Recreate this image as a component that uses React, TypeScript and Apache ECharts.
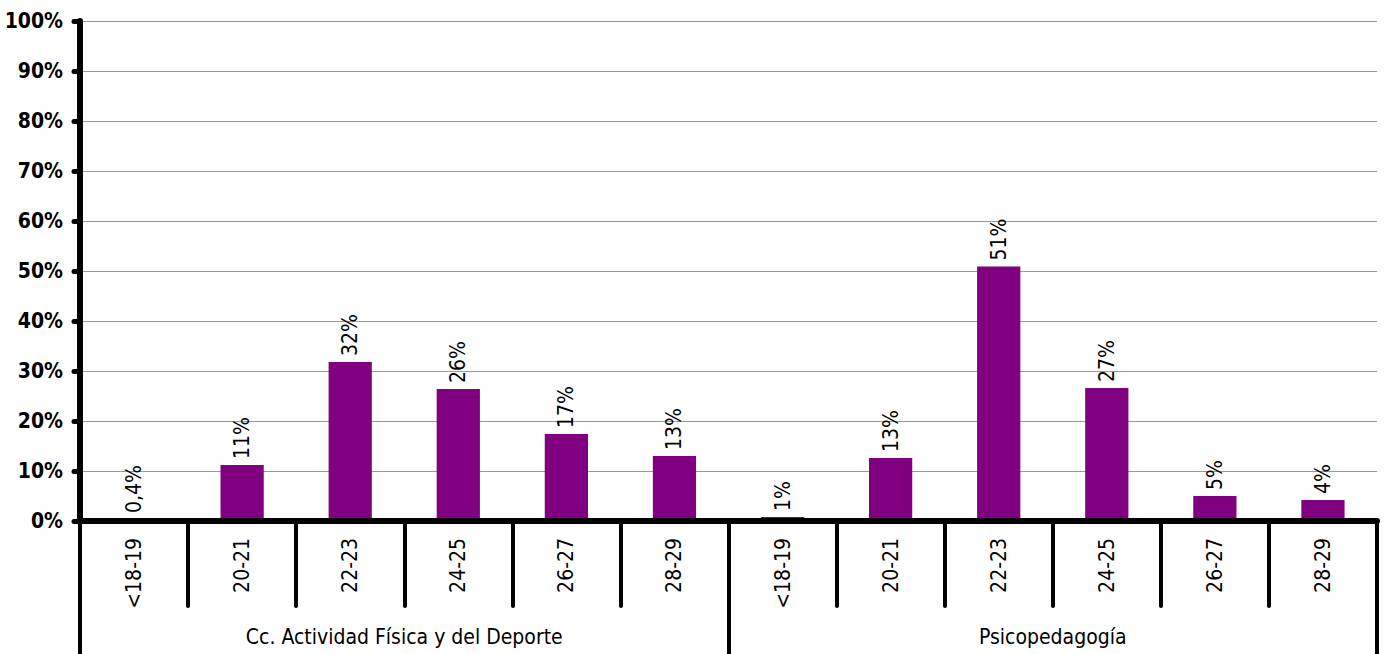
import React, { useEffect, useRef } from "react";
import * as echarts from "echarts";

const ageBands = ["<18-19", "20-21", "22-23", "24-25", "26-27", "28-29", "<18-19", "20-21", "22-23", "24-25", "26-27", "28-29"];
const groups = ["Cc. Actividad Física y del Deporte", "Psicopedagogía"];
const values = [0.4, 11.2, 31.8, 26.4, 17.4, 13.0, 0.8, 12.6, 50.9, 26.6, 5.0, 4.2];
const valueLabels = ["0,4%", "11%", "32%", "26%", "17%", "13%", "1%", "13%", "51%", "27%", "5%", "4%"];
const yTicks = [0, 10, 20, 30, 40, 50, 60, 70, 80, 90, 100];

const FONT = "'Liberation Sans Narrow', 'Arial Narrow', 'DejaVu Sans Condensed', sans-serif";

export default function App() {
  const ref = useRef<HTMLDivElement>(null);
  useEffect(() => {
    if (!ref.current) return;
    const chart = echarts.init(ref.current, null, { renderer: "svg" });
    chart.setOption({
      animation: false,
      textStyle: { fontFamily: FONT },
      grid: { left: 80, right: 11, top: 21, bottom: 133, containLabel: false },
      xAxis: [
        {
          type: "category",
          data: ageBands,
          position: "bottom",
          z: 5,
          axisLine: { show: true, lineStyle: { color: "#000", width: 6 } },
          axisTick: { show: true, length: 85, lineStyle: { color: "#000", width: 4, cap: "round" } },
          axisLabel: {
            rotate: 90,
            margin: 17,
            fontSize: 21,
            color: "#000",
            fontFamily: FONT,
          },
        },
        {
          type: "category",
          data: groups,
          position: "bottom",
          axisLine: { show: false },
          axisTick: { show: true, length: 140, lineStyle: { color: "#000", width: 4 } },
          axisLabel: { margin: 105, fontSize: 21, color: "#000", fontFamily: FONT },
        },
      ],
      yAxis: {
        type: "value",
        min: 0,
        max: 100,
        interval: 10,
        axisLine: { show: true, lineStyle: { color: "#000", width: 6 } },
        axisTick: { show: true, length: 6, lineStyle: { color: "#000", width: 5, cap: "round" } },
        splitLine: { show: true, lineStyle: { color: "#999", width: 1 } },
        axisLabel: {
          formatter: (v: number) => (yTicks.includes(v) ? v + "%" : ""),
          fontSize: 21,
          fontWeight: "bold",
          color: "#000",
          margin: 17,
          fontFamily: FONT,
        },
      },
      series: [
        {
          type: "bar",
          xAxisIndex: 0,
          data: values,
          barWidth: "40%",
          itemStyle: { color: "#800080" },
          label: {
            show: true,
            position: "top",
            rotate: 90,
            align: "left",
            verticalAlign: "middle",
            distance: 6,
            fontSize: 21,
            color: "#000",
            fontFamily: FONT,
            formatter: (p: any) => valueLabels[p.dataIndex],
          },
        },
      ],
    });
    return () => chart.dispose();
  }, []);
  return <div ref={ref} style={{ width: 1388, height: 654, position: "absolute", left: 0, top: 0 }} />;
}
